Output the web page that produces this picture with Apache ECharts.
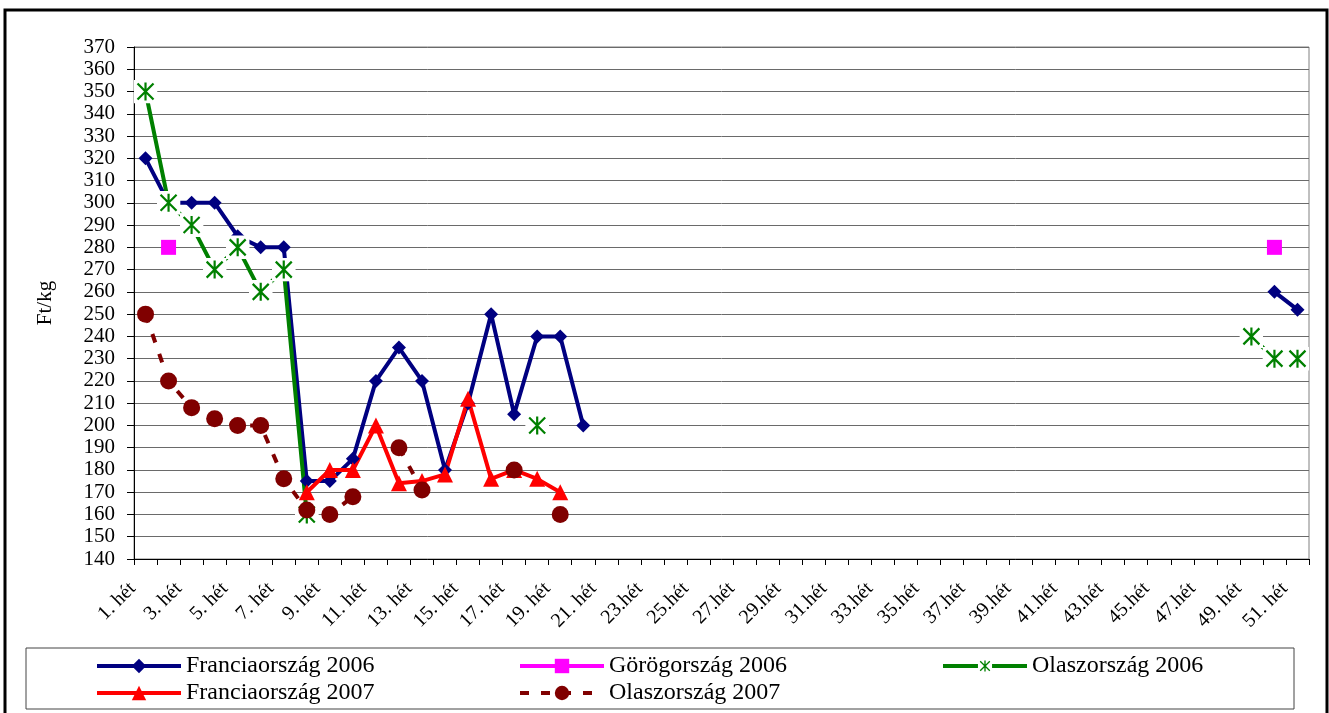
<!DOCTYPE html>
<html>
<head>
<meta charset="utf-8">
<script src="https://cdn.jsdelivr.net/npm/echarts@6/dist/echarts.min.js"></script>
<style>
html,body{margin:0;padding:0;background:#fff;}
#chart{width:1329px;height:713px;}
</style>
</head>
<body>
<div id="chart"></div>
<script>
// Categories (weeks)
const weeks = ['1. hét','2. hét','3. hét','4. hét','5. hét','6. hét','7. hét','8. hét','9. hét','10. hét',
  '11. hét','12. hét','13. hét','14. hét','15. hét','16. hét','17. hét','18. hét','19. hét','20. hét',
  '21. hét','22.hét','23.hét','24.hét','25.hét','26.hét','27.hét','28.hét','29.hét','30.hét',
  '31.hét','32.hét','33.hét','34.hét','35.hét','36.hét','37.hét','38.hét','39.hét','40.hét',
  '41.hét','42.hét','43.hét','44.hét','45.hét','46.hét','47.hét','48.hét','49. hét','50. hét','51. hét'];

const seriesNames = ['Franciaország 2006','Görögország 2006','Olaszország 2006','Franciaország 2007','Olaszország 2007'];

// Values (Ft/kg), null = no data
const francia2006 = [320,300,300,300,285,280,280,175,175,185,220,235,220,180,210,250,205,240,240,200,
  null,null,null,null,null,null,null,null,null,null,null,null,null,null,null,null,null,null,null,null,
  null,null,null,null,null,null,null,null,null,260,252];
const gorog2006 = [null,280,null,null,null,null,null,null,null,null,null,null,null,null,null,null,null,null,null,null,
  null,null,null,null,null,null,null,null,null,null,null,null,null,null,null,null,null,null,null,null,
  null,null,null,null,null,null,null,null,null,280,null];
const olasz2006 = [350,300,290,270,280,260,270,160,null,null,null,null,null,null,null,null,null,200,null,null,
  null,null,null,null,null,null,null,null,null,null,null,null,null,null,null,null,null,null,null,null,
  null,null,null,null,null,null,null,null,240,230,230];
const francia2007 = [null,null,null,null,null,null,null,170,180,180,200,174,175,178,212,176,180,176,170,null,
  null,null,null,null,null,null,null,null,null,null,null,null,null,null,null,null,null,null,null,null,
  null,null,null,null,null,null,null,null,null,null,null];
const olasz2007 = [250,220,208,203,200,200,176,162,160,168,null,190,171,null,null,null,180,null,160,null,
  null,null,null,null,null,null,null,null,null,null,null,null,null,null,null,null,null,null,null,null,
  null,null,null,null,null,null,null,null,null,null,null];

const yMin = 140, yMax = 370, yStep = 10;

const FONT = '"Liberation Serif", "Times New Roman", serif';
const starSvg = "<svg xmlns='http://www.w3.org/2000/svg' width='24' height='24' viewBox='0 0 24 24'>" +
  "<rect width='24' height='24' fill='white'/>" +
  "<path d='M4 4L20 20M20 4L4 20M12 3V21' stroke='#008000' stroke-width='2.2' fill='none'/></svg>";
const starSymbol = 'image://data:image/svg+xml;charset=utf-8,' + encodeURIComponent(starSvg);

const chart = echarts.init(document.getElementById('chart'), null, {renderer: 'canvas'});

function legendAt(name, left, top) {
  return {
    data: [name], left: left, top: top, orient: 'horizontal',
    itemWidth: 84, itemHeight: 18, itemGap: 5, padding: 0,
    selectedMode: false,
    lineStyle: {width: 4},
    textStyle: {fontFamily: FONT, fontSize: 24, color: '#000', lineHeight: 24}
  };
}

chart.setOption({
  animation: false,
  backgroundColor: '#fff',
  graphic: [
    {type: 'rect', shape: {x: 5, y: 10, width: 1322, height: 712}, style: {fill: 'none', stroke: '#000', lineWidth: 3}, silent: true},
    {type: 'rect', shape: {x: 26, y: 648, width: 1268, height: 61}, style: {fill: 'none', stroke: '#444', lineWidth: 1}, silent: true}
  ],
  grid: {left: 134, right: 20, top: 47, bottom: 154, show: true, borderColor: '#808080', borderWidth: 1, containLabel: false},
  legend: [
    legendAt(seriesNames[0], 95, 654),
    legendAt(seriesNames[1], 518, 654),
    legendAt(seriesNames[2], 941, 654),
    legendAt(seriesNames[3], 95, 681),
    legendAt(seriesNames[4], 518, 681)
  ],
  xAxis: {
    type: 'category',
    data: weeks,
    boundaryGap: true,
    axisLine: {lineStyle: {color: '#000', width: 1}},
    axisTick: {show: true, interval: 0, length: 6, lineStyle: {color: '#000'}},
    axisLabel: {interval: 1, rotate: 45, fontFamily: FONT, fontSize: 20, color: '#000', margin: 14, padding: [0, 18, 0, 0]},
    splitLine: {show: false}
  },
  yAxis: {
    type: 'value',
    min: yMin, max: yMax, interval: yStep,
    name: 'Ft/kg', nameLocation: 'middle', nameRotate: 90, nameGap: 78,
    nameTextStyle: {fontFamily: FONT, fontSize: 21, color: '#000'},
    axisLine: {show: true, lineStyle: {color: '#000', width: 1}},
    axisTick: {show: true, length: 7, lineStyle: {color: '#000'}},
    axisLabel: {fontFamily: FONT, fontSize: 21, color: '#000', margin: 19},
    splitLine: {show: true, lineStyle: {color: '#6a6a6a', width: 1}}
  },
  series: [
    {
      name: seriesNames[0], type: 'line', data: francia2006, connectNulls: false, showAllSymbol: true,
      symbol: 'diamond', symbolSize: 14,
      lineStyle: {color: '#000080', width: 4},
      itemStyle: {color: '#000080'}
    },
    {
      name: seriesNames[1], type: 'line', data: gorog2006, connectNulls: false, showAllSymbol: true,
      symbol: 'rect', symbolSize: 15,
      lineStyle: {color: '#FF00FF', width: 4},
      itemStyle: {color: '#FF00FF'}
    },
    {
      name: seriesNames[2], type: 'line', data: olasz2006, connectNulls: false, showAllSymbol: true,
      symbol: starSymbol, symbolSize: 24,
      lineStyle: {color: '#008000', width: 4},
      itemStyle: {color: '#008000'}
    },
    {
      name: seriesNames[3], type: 'line', data: francia2007, connectNulls: false, showAllSymbol: true,
      symbol: 'triangle', symbolSize: 16,
      lineStyle: {color: '#FF0000', width: 4},
      itemStyle: {color: '#FF0000'}
    },
    {
      name: seriesNames[4], type: 'line', data: olasz2007, connectNulls: false, showAllSymbol: true,
      symbol: 'circle', symbolSize: 17,
      lineStyle: {color: '#800000', width: 4, type: [9, 12]},
      itemStyle: {color: '#800000'}
    }
  ]
});
</script>
</body>
</html>
